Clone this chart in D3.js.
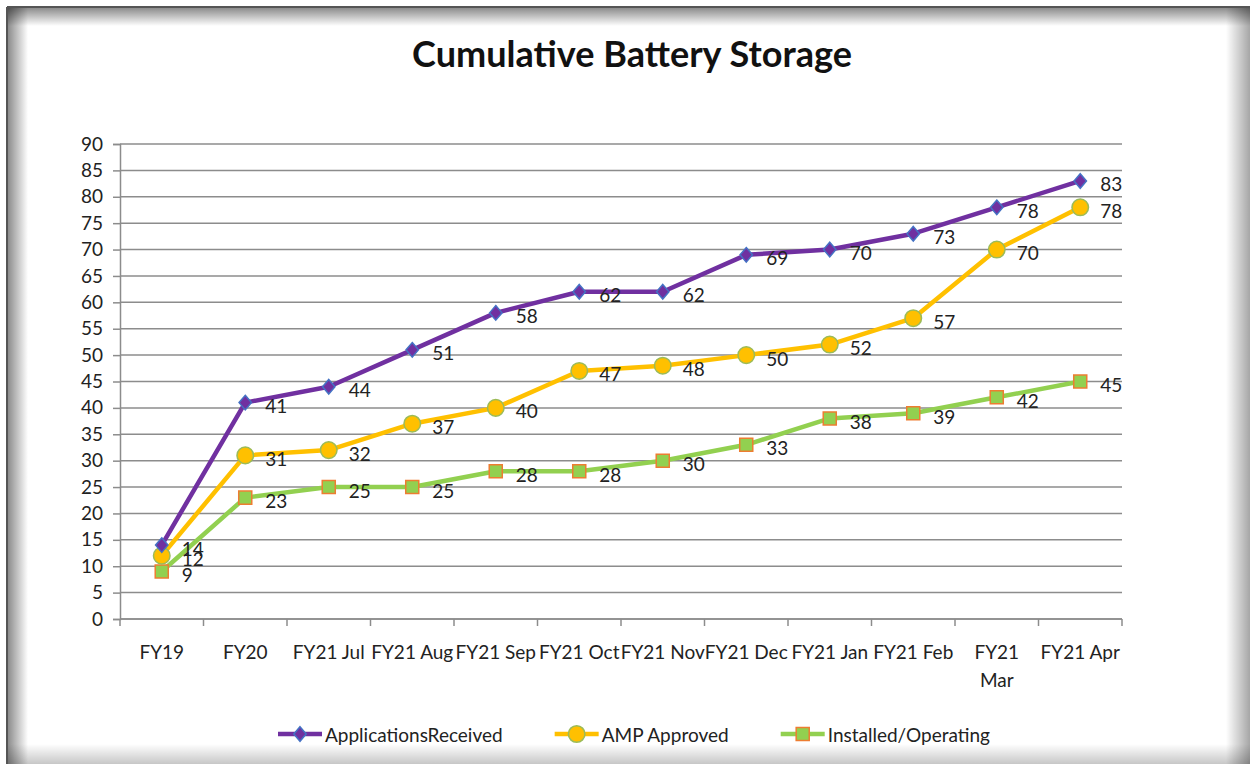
<!DOCTYPE html>
<html>
<head>
<meta charset="utf-8">
<script src="https://cdn.jsdelivr.net/npm/d3@7"></script>
<style>
  html, body { margin: 0; padding: 0; background: #ffffff; }
  svg { display: block; }
  text { font-family: Lato, "Liberation Sans", sans-serif; }
</style>
</head>
<body>
<svg id="chart" width="1250" height="764"></svg>
<script>
const categories = ["FY19", "FY20", "FY21 Jul", "FY21 Aug", "FY21 Sep", "FY21 Oct", "FY21 Nov", "FY21 Dec", "FY21 Jan", "FY21 Feb", "FY21 Mar", "FY21 Apr"];
const applicationsReceived = [14, 41, 44, 51, 58, 62, 62, 69, 70, 73, 78, 83];
const ampApproved = [12, 31, 32, 37, 40, 47, 48, 50, 52, 57, 70, 78];
const installedOperating = [9, 23, 25, 25, 28, 28, 30, 33, 38, 39, 42, 45];
const seriesNames = ["ApplicationsReceived", "AMP Approved", "Installed/Operating"];
const yTicks = [0, 5, 10, 15, 20, 25, 30, 35, 40, 45, 50, 55, 60, 65, 70, 75, 80, 85, 90];
const titleText = "Cumulative Battery Storage";

(function () {
const W = 1250, H = 764;
const svg = d3.select("#chart");

// ---- frame with inner shadow ----
const defs = svg.append("defs");
function grad(id, x1, y1, x2, y2, c1, o1, c2, o2) {
  const g = defs.append("linearGradient").attr("id", id)
    .attr("x1", x1).attr("y1", y1).attr("x2", x2).attr("y2", y2);
  g.append("stop").attr("offset", "0%").attr("stop-color", c1).attr("stop-opacity", o1);
  g.append("stop").attr("offset", "100%").attr("stop-color", c2).attr("stop-opacity", o2);
}
grad("gl", 0, 0, 1, 0, "#000", 0.45, "#000", 0);
grad("gt", 0, 0, 0, 1, "#000", 0.45, "#000", 0);
grad("gr", 0, 0, 1, 0, "#000", 0, "#000", 0.35);
grad("gb", 0, 0, 0, 1, "#000", 0, "#000", 0.22);

svg.append("rect").attr("x", 8).attr("y", 8).attr("width", 20).attr("height", H - 8).attr("fill", "url(#gl)");
svg.append("rect").attr("x", 8).attr("y", 8).attr("width", W - 8).attr("height", 18).attr("fill", "url(#gt)");
svg.append("rect").attr("x", 1226).attr("y", 8).attr("width", 24).attr("height", H - 8).attr("fill", "url(#gr)");
svg.append("rect").attr("x", 8).attr("y", 744).attr("width", W - 8).attr("height", 20).attr("fill", "url(#gb)");
svg.append("line").attr("x1", 7).attr("x2", 7).attr("y1", 7).attr("y2", H).attr("stroke", "#555").attr("stroke-width", 2);
svg.append("line").attr("x1", 7).attr("x2", W).attr("y1", 7).attr("y2", 7).attr("stroke", "#555").attr("stroke-width", 2);

// ---- title ----
const title = svg.append("text").attr("x", 632).attr("y", 67)
  .attr("text-anchor", "middle").attr("font-weight", "bold")
  .attr("font-size", 32).attr("fill", "#111").text(titleText);
{
  const w = title.node().getComputedTextLength();
  title.attr("font-size", 32 * 440 / w);
}

// ---- scales ----
const pLeft = 120, pRight = 1122, pTop = 144, pBottom = 619;
const x = d3.scaleBand().domain(categories).range([pLeft, pRight]).padding(0);
const y = d3.scaleLinear().domain([0, 90]).range([pBottom, pTop]);
const cx = c => x(c) + x.bandwidth() / 2;

// gridlines
svg.append("g").selectAll("line").data(yTicks).join("line")
  .attr("x1", pLeft).attr("x2", pRight)
  .attr("y1", d => y(d)).attr("y2", d => y(d))
  .attr("stroke", "#8c8c8c").attr("stroke-width", 1.5);

// y axis
const yAxis = svg.append("g").attr("transform", `translate(${pLeft},0)`)
  .call(d3.axisLeft(y).tickValues(yTicks).tickSize(7).tickPadding(10).tickFormat(d3.format("d")));
yAxis.select(".domain").attr("stroke", "#8c8c8c").attr("stroke-width", 1.5);
yAxis.selectAll(".tick line").attr("stroke", "#8c8c8c").attr("stroke-width", 1.5);
yAxis.selectAll(".tick text").attr("font-size", 19).attr("fill", "#222")
  .attr("font-family", "Lato, 'Liberation Sans', sans-serif");

// x axis
const xAxisG = svg.append("g").attr("transform", `translate(0,${pBottom})`);
xAxisG.append("line").attr("x1", pLeft).attr("x2", pRight).attr("y1", 0).attr("y2", 0)
  .attr("stroke", "#8c8c8c").attr("stroke-width", 1.5);
const boundaries = categories.map(c => x(c)).concat([pRight]);
xAxisG.selectAll("line.tk").data(boundaries).join("line").attr("class", "tk")
  .attr("x1", d => d).attr("x2", d => d).attr("y1", 0).attr("y2", 7)
  .attr("stroke", "#8c8c8c").attr("stroke-width", 1.5);
const xl = xAxisG.selectAll("text.xl").data(categories).join("text").attr("class", "xl")
  .attr("x", d => cx(d)).attr("y", 40)
  .attr("text-anchor", "middle").attr("font-size", 19).attr("fill", "#222");
xl.each(function(d) {
  const t = d3.select(this);
  if (d === "FY21 Mar") {
    t.append("tspan").attr("x", cx(d)).attr("dy", 0).text("FY21");
    t.append("tspan").attr("x", cx(d)).attr("dy", 28).text("Mar");
  } else {
    t.text(d);
  }
});

// ---- series ----
const series = [
  { name: seriesNames[0], values: applicationsReceived, line: "#7030A0", fill: "#7030A0", stroke: "#4472C4", marker: "diamond" },
  { name: seriesNames[1], values: ampApproved, line: "#FFC000", fill: "#FFC000", stroke: "#9BBB59", marker: "circle" },
  { name: seriesNames[2], values: installedOperating, line: "#92D050", fill: "#92D050", stroke: "#ED7D31", marker: "square" }
];
const excelDiamond = {
  draw(ctx, size) {
    const h = Math.sqrt(size) / 1.3, w = h * 0.85;
    ctx.moveTo(0, -h); ctx.lineTo(w, 0); ctx.lineTo(0, h); ctx.lineTo(-w, 0); ctx.closePath();
  }
};
const symbolFor = m => m === "diamond" ? d3.symbol().type(excelDiamond).size(90)
  : m === "circle" ? d3.symbol().type(d3.symbolCircle).size(215)
  : d3.symbol().type(d3.symbolSquare).size(170);

const lineGen = d3.line().x((d, i) => cx(categories[i])).y(d => y(d));

const drawOrder = [2, 1, 0];
drawOrder.forEach(si => {
  const s = series[si];
  svg.append("path").datum(s.values).attr("d", lineGen)
    .attr("fill", "none").attr("stroke", s.line).attr("stroke-width", 4.5)
    .attr("stroke-linejoin", "round").attr("stroke-linecap", "round");
});
drawOrder.forEach(si => {
  const s = series[si];
  svg.append("g").selectAll("path").data(s.values).join("path")
    .attr("transform", (d, i) => `translate(${cx(categories[i])},${y(d)})`)
    .attr("d", symbolFor(s.marker)())
    .attr("fill", s.fill).attr("stroke", s.stroke).attr("stroke-width", 1.5);
});
series.forEach(s => {
  svg.append("g").selectAll("text").data(s.values).join("text")
    .attr("x", (d, i) => cx(categories[i]) + 20)
    .attr("y", d => y(d) + 3)
    .attr("dominant-baseline", "central")
    .attr("font-size", 19).attr("fill", "#222")
    .text(d => d);
});

// ---- legend ----
const legend = svg.append("g");
const ly = 734;
const items = [];
series.forEach((s, i) => {
  const g = legend.append("g");
  g.append("line").attr("x1", 0).attr("x2", 44).attr("y1", 0).attr("y2", 0)
    .attr("stroke", s.line).attr("stroke-width", 4.5);
  g.append("path").attr("transform", "translate(22,0)").attr("d", symbolFor(s.marker)())
    .attr("fill", s.fill).attr("stroke", s.stroke).attr("stroke-width", 1.5);
  const t = g.append("text").attr("x", 47).attr("y", 0).attr("dominant-baseline", "central")
    .attr("font-size", 19).attr("fill", "#222").text(s.name);
  const w = 47 + t.node().getComputedTextLength();
  items.push({ g, w });
});
const legendStart = 278, legendEnd = 990;
const gap = (legendEnd - legendStart - d3.sum(items, d => d.w)) / (items.length - 1);
let lx = legendStart;
items.forEach(it => {
  it.g.attr("transform", `translate(${lx},${ly})`);
  lx += it.w + gap;
});
})();
</script>
</body>
</html>
